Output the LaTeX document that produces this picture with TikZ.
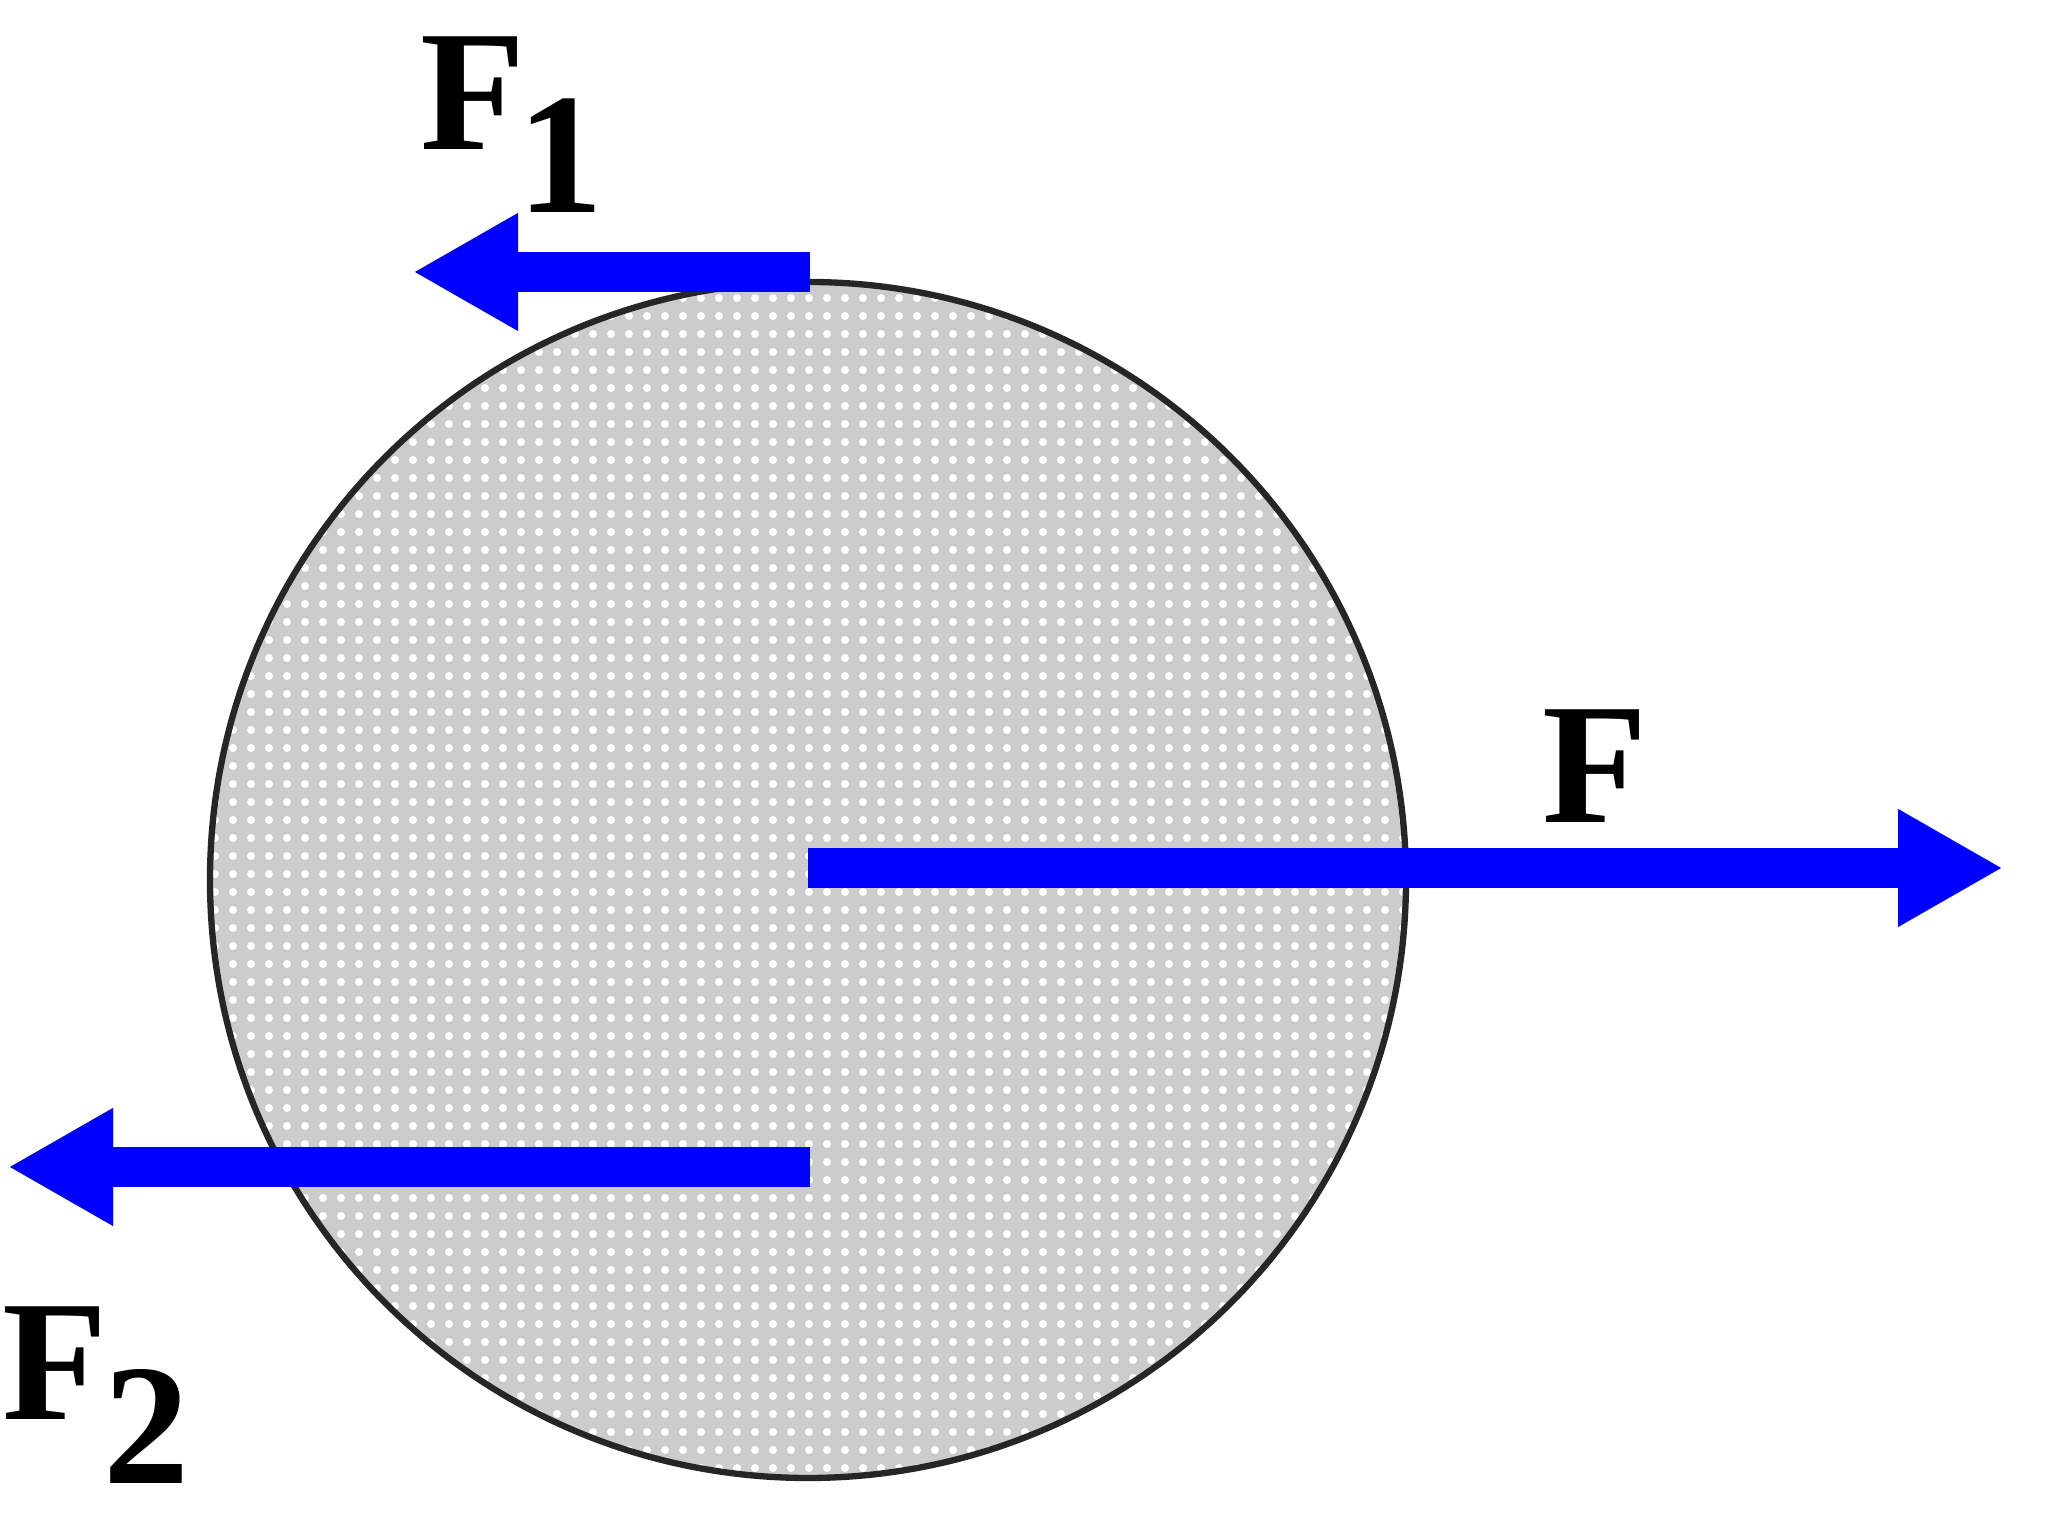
\documentclass[tikz,border=0pt]{standalone}
\usepackage{fontspec}
\setmainfont{Liberation Serif}
\usepackage{xcolor}
\usepackage{tikz}
\usetikzlibrary{arrows.meta,positioning,calc,patterns.meta}

\begin{document}
\begin{tikzpicture}[
  force/.style={draw=blue, line width=0.40cm,
    -{Triangle[length=1.05cm, width=1.1cm]}},
  ballbody/.style={circle, draw=black!85, line width=1.8pt,
    preaction={fill=black!20},
    pattern={Dots[distance=0.18cm, radius=0.04cm]}, pattern color=white,
    minimum size=11.96cm, inner sep=0pt, outer sep=0pt},
  forcelabel/.style={anchor=base west, inner sep=0pt,
    font=\fontsize{49}{55}\selectfont\bfseries},
]
\useasboundingbox (0,0) rectangle (20.46,15.22);
\node[ballbody] (ball) at (8.08,6.42) {};
% tails and tips of the three forces
\coordinate (ftail) at (8.08,6.54);
\coordinate (ftip) at (20.03,6.54);
\coordinate (fonetail) at (8.10,12.50);
\coordinate (fonetip) at (4.13,12.50);
\coordinate (ftwotail) at (8.10,3.55);
\coordinate (ftwotip) at (0.08,3.55);
\draw[force] (ftail) -- (ftip);
\draw[force] (fonetail) -- (fonetip);
\draw[force] (ftwotail) -- (ftwotip);
\node[forcelabel] (flab) at (15.42,6.99) {F};
\node[forcelabel] (fonelab) at (4.20,13.72) {F\kern-0.08cm\raisebox{-0.63cm}{1}};
\node[forcelabel] (ftwolab) at (0.02,1.02) {F\kern-0.04cm\raisebox{-0.64cm}{2}};
\end{tikzpicture}
\end{document}
